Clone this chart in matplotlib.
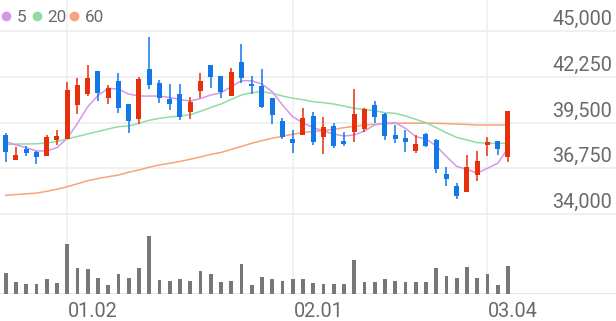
import numpy as np
import matplotlib.pyplot as plt
import matplotlib
from matplotlib.lines import Line2D

matplotlib.use("Agg")

# ------------------------------------------------------------------ #
#  Dados                                            #
# ------------------------------------------------------------------ #
opens = [38750, 37250, 37880, 37700, 37500, 38450, 38490, 40550, 41200, 42610,
         40960, 41990, 40610, 39690, 42700, 41860, 40930, 41230, 40110, 41420,
         42960, 42300, 41090, 43160, 41840, 41690, 40960, 39610, 38490, 38750,
         39890, 38610, 39290, 38410, 38950, 39090, 40550, 40010, 38750, 38550,
         37810, 38810, 38450, 36390, 35680, 35340, 36340, 38150, 38410, 37410]
highs = [38870, 38000, 38090, 37780, 38750, 39020, 41920, 42160, 42930, 42610,
         41750, 42480, 40610, 42250, 44660, 42060, 41830, 41840, 41060, 42460,
         42960, 42300, 42760, 44220, 42300, 42700, 40960, 39750, 39050, 40350,
         40150, 39810, 39450, 38950, 41500, 40350, 40810, 40070, 39350, 39050,
         38750, 38890, 38510, 36810, 35880, 37550, 37790, 38610, 38410, 40210]
lows = [37150, 37250, 37480, 37000, 37490, 38150, 38480, 39990, 41090, 40820,
        40610, 40100, 38870, 39380, 41500, 40700, 40250, 39670, 39690, 40970,
        41560, 40960, 41090, 41890, 41210, 40350, 39390, 38490, 37650, 38750,
        38150, 37590, 37950, 38090, 38350, 38950, 39490, 38450, 38250, 37750,
        37690, 38010, 36450, 35680, 34880, 35340, 36000, 37490, 37550, 37140]
closes = [37750, 37550, 37650, 37400, 38650, 38690, 41450, 41750, 42160, 41260,
          41590, 40390, 39620, 42090, 41750, 40970, 40630, 39830, 40710, 42010,
          42220, 41350, 42520, 42160, 41690, 40450, 39950, 38610, 38250, 39750,
          38350, 39250, 38090, 38210, 40010, 40290, 39810, 38690, 38510, 38350,
          38190, 38110, 36690, 36100, 35080, 36810, 37190, 38350, 37910, 40210]

ma5 = [38350, 38150, 37990, 37790, 37790, 37990, 38550, 39450, 40450, 41120,
       41560, 41500, 41210, 41090, 41090, 41090, 41000, 40880, 40790, 40940,
       41150, 41290, 41650, 42010, 42010, 41810, 41350, 40550, 39850, 39470,
       39200, 38990, 38810, 38690, 38750, 38990, 39350, 39450, 39490, 39150,
       38650, 38510, 38090, 37460, 36860, 36690, 36450, 36750, 37050, 37950]
ma20 = [38180, 38200, 38210, 38220, 38270, 38350, 38510, 38660, 38810, 38960,
        39110, 39250, 39290, 39450, 39630, 39750, 39830, 39890, 39970, 40170,
        40400, 40610, 40890, 41150, 41290, 41350, 41260, 41090, 40960, 40870,
        40750, 40690, 40610, 40490, 40350, 40290, 40210, 40090, 40050, 39890,
        39690, 39490, 39190, 38880, 38600, 38450, 38290, 38250, 38250, 38250]
ma60 = [35120, 35170, 35210, 35260, 35360, 35490, 35640, 35820, 36000, 36130,
        36240, 36340, 36510, 36650, 36810, 36950, 37050, 37160, 37290, 37430,
        37580, 37700, 37880, 38060, 38250, 38410, 38550, 38670, 38790, 38900,
        38960, 39020, 39090, 39190, 39270, 39350, 39390, 39430, 39450, 39460,
        39460, 39460, 39450, 39430, 39410, 39380, 39350, 39350, 39350, 39350]

volumes = [64, 35, 29, 30, 44, 34, 149, 77, 74, 47,
           27, 61, 49, 77, 175, 41, 38, 45, 38, 69,
           60, 35, 39, 90, 27, 50, 45, 40, 45, 45,
           32, 29, 29, 31, 102, 35, 35, 44, 39, 35,
           35, 37, 77, 53, 47, 81, 47, 60, 26, 84]

tick_idx = [6, 28, 47]
tick_labels = ["01.02", "02.01", "03.04"]
price_ticks = [34000, 36750, 39500, 42250, 45000]

UP = "#e5300b"
DOWN = "#1277e8"
C_MA5 = "#d597ea"
C_MA20 = "#93dba3"
C_MA60 = "#f8a37c"
TXT = "#6a6a6a"
FONT = "Roboto"

W, H = 616, 321
fig = plt.figure(figsize=(W / 100, H / 100), dpi=100)


def px_axes(top, bottom):
    a = fig.add_axes([0, 1 - bottom / H, 1, (bottom - top) / H])
    a.set_axis_off()
    return a


n = len(closes)
x = np.arange(n)
step = 10.25
xlim = (-5.7 / step, (W - 5.7) / step)

bg = px_axes(0, 294)
bg.set_xlim(*xlim)
bg.set_ylim(0, 1)
for i in tick_idx:
    bg.axvline(i, color="#f1f1f1", lw=1.3, zorder=0)

ax = px_axes(0, 220)
ax.patch.set_alpha(0)
k = 11000 / 183
ax.set_xlim(*xlim)
ax.set_ylim(34000 - 6 * k, 45000 + 31 * k)

for v in price_ticks:
    ax.axhline(v, color="#efefef", lw=1.3, zorder=0)
    ax.annotate(f"{v:,}", xy=(1, v), xycoords=("axes fraction", "data"),
                xytext=(-3, 4.3), textcoords="offset points", ha="right",
                va="baseline", fontsize=14.3, color=TXT, family=FONT)

ax.plot(x, ma60, color=C_MA60, lw=1.1, zorder=2)
ax.plot(x, ma20, color=C_MA20, lw=1.1, zorder=2)
ax.plot(x, ma5, color=C_MA5, lw=1.1, zorder=2)

o, h, l, c = map(np.array, (opens, highs, lows, closes))
cols = [UP if cc >= oo else DOWN for oo, cc in zip(o, c)]
ax.vlines(x, l, h, colors=cols, lw=1.1, zorder=3)
body_lo = np.minimum(o, c)
body_h = np.maximum(np.abs(c - o), 120)
ax.bar(x, body_h, bottom=body_lo, width=0.49, color=cols, zorder=4)

# legenda
for xp, col, lab in [(6, C_MA5, "5"), (37, C_MA20, "20"), (74, C_MA60, "60")]:
    fig.add_artist(Line2D([xp / W], [1 - 15.7 / H], marker="o", markersize=6,
                          color=col, lw=0))
    fig.text((xp + 10.5) / W, 1 - 21.5 / H, lab, fontsize=12.3, color=TXT,
             family=FONT, va="baseline", ha="left")

axv = px_axes(230, 294)
axv.patch.set_alpha(0)
axv.set_xlim(*xlim)
axv.set_ylim(0, 192)
axv.bar(x, volumes, width=0.36, color="#777777", zorder=2)
axv.axhline(0, color="#e4e4e4", lw=1.3, zorder=1)

for i, lab in zip(tick_idx, tick_labels):
    axv.annotate(lab, xy=(i, 0), xycoords="data", xytext=(0.5, -16.8),
                 textcoords="offset points", ha="left", va="baseline",
                 fontsize=14.3, color=TXT, family=FONT)

fig.savefig("out.png", dpi=100)
